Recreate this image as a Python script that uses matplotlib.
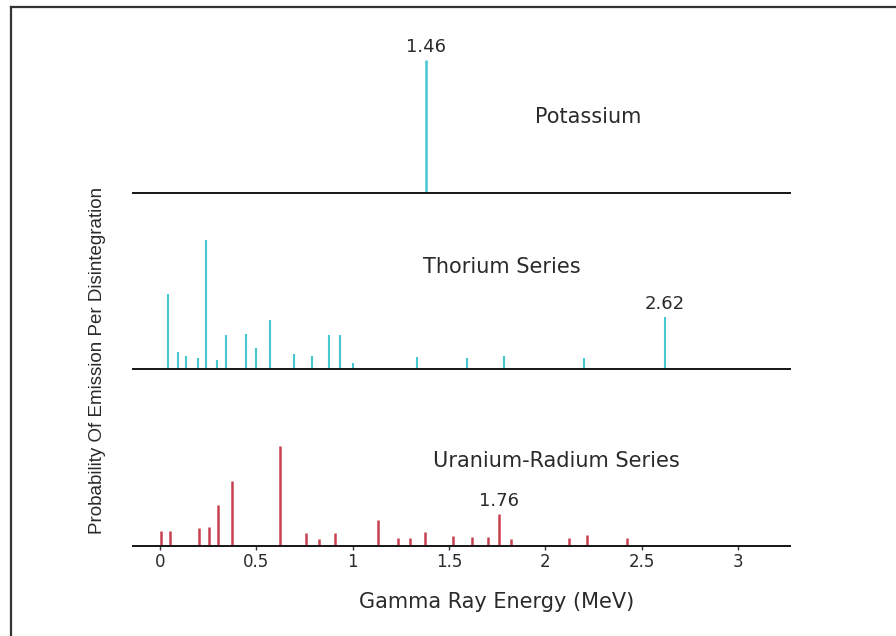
import matplotlib
matplotlib.use("Agg")
import matplotlib.pyplot as plt
from matplotlib.lines import Line2D

# gamma ray lines (energy in MeV, relative height)
k_energy = [1.38]
k_height = [133]

th_energy = [0.040, 0.092, 0.133, 0.196, 0.237, 0.294, 0.341, 0.446, 0.498, 0.571,
             0.694, 0.790, 0.879, 0.936, 1.003, 1.332, 1.592, 1.784, 2.200, 2.62]
th_height = [75, 17, 13, 11, 129, 9, 34, 35, 21, 49,
             15, 13, 34, 34, 6, 12, 11, 13, 11, 52]

u_energy = [0.005, 0.052, 0.204, 0.256, 0.299, 0.374, 0.624, 0.756, 0.825, 0.908,
            1.130, 1.237, 1.297, 1.373, 1.518, 1.619, 1.704, 1.76, 1.819, 2.122,
            2.217, 2.422]
u_height = [15, 15, 18, 19, 41, 65, 100, 13, 7, 13,
            26, 8, 8, 14, 10, 9, 9, 32, 7, 8,
            11, 8]

xticks = [0, 0.5, 1, 1.5, 2, 2.5, 3]
xticklabels = ["0", "0.5", "1", "1.5", "2", "2.5", "3"]

CYAN = "#45c8d0"
RED = "#c8414f"
INK = "#2a2a2a"
W, H = 896, 636


def make_axes(fig, base_y, height=150):
    ax = fig.add_axes([133 / W, (H - base_y) / H, (790 - 133) / W, height / H])
    ax.set_xlim(-0.140, 3.269)
    ax.set_ylim(0, height)
    for s in ["top", "left", "right"]:
        ax.spines[s].set_visible(False)
    ax.spines["bottom"].set_linewidth(1.4)
    ax.spines["bottom"].set_color("#151515")
    ax.set_yticks([])
    ax.patch.set_alpha(0)
    return ax


def main():
    fig = plt.figure(figsize=(8.96, 6.36), dpi=100)

    ax_k = make_axes(fig, 193)
    ax_t = make_axes(fig, 369)
    ax_u = make_axes(fig, 546)

    for ax in (ax_k, ax_t):
        ax.tick_params(bottom=False, labelbottom=False)

    ax_k.vlines(k_energy, 0, k_height, color=CYAN, lw=1.8)
    ax_t.vlines(th_energy, 0, th_height, color=CYAN, lw=1.5)
    ax_u.vlines(u_energy, 0, u_height, color=RED, lw=1.8)

    txt = dict(ha="center", va="center", color=INK, fontsize=15)
    ax_k.text(2.221, 76, "Potassium", **txt)
    ax_t.text(1.772, 102, "Thorium Series", **txt)
    ax_u.text(2.055, 85, "Uranium-Radium Series", **txt)

    num = dict(ha="center", va="center", color=INK, fontsize=13,
               textcoords="offset points", xytext=(0, 9.5))
    ax_k.annotate("1.46", xy=(k_energy[0], k_height[0]), **num)
    ax_t.annotate("2.62", xy=(th_energy[-1], th_height[-1]), **num)
    ax_u.annotate("1.76", xy=(u_energy[17], u_height[17]), **num)

    ax_u.set_xticks(xticks)
    ax_u.set_xticklabels(xticklabels, fontsize=12, color=INK)
    ax_u.tick_params(axis="x", direction="out", length=3, width=1, pad=2, color="#333333")
    ax_u.set_xlabel("Gamma Ray Energy (MeV)", fontsize=15, color=INK, va="top")
    ax_u.xaxis.set_label_coords(0.554, -0.31)

    fig.text(97 / W, 1 - 360 / H, "Probability Of Emission Per Disintegration",
             rotation=90, ha="center", va="center", fontsize=13.5,
             family="Liberation Sans", color=INK)

    # frame of the scanned figure (top and left edges only)
    fig.add_artist(Line2D([11 / W, 1], [1 - 7 / H, 1 - 7 / H], transform=fig.transFigure,
                          color="#333333", lw=1.6))
    fig.add_artist(Line2D([11 / W, 11 / W], [0, 1 - 7 / H], transform=fig.transFigure,
                          color="#333333", lw=1.6))

    fig.savefig("out.png", dpi=100)


if __name__ == "__main__":
    main()
